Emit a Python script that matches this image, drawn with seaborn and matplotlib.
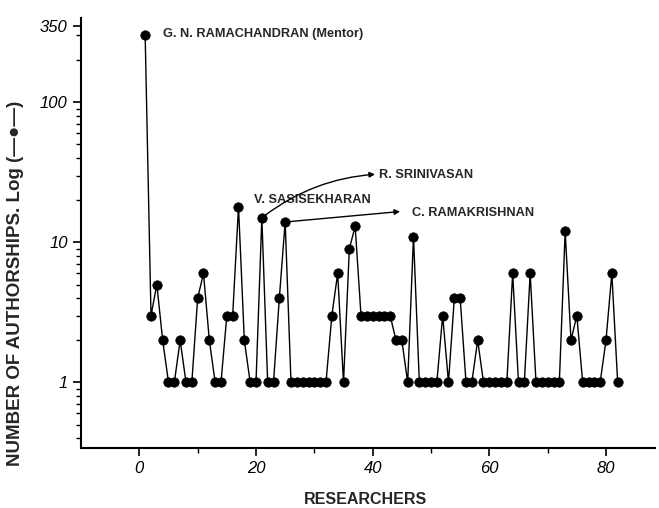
import matplotlib
matplotlib.use("Agg")
import matplotlib.pyplot as plt
import seaborn as sns
import pandas as pd
import numpy as np

researchers = list(range(1, 83))
authorships = [
    300, 3, 5, 2, 1, 1, 2, 1, 1, 4,
    6, 2, 1, 1, 3, 3, 18, 2, 1, 1,
    15, 1, 1, 4, 14, 1, 1, 1, 1, 1,
    1, 1, 3, 6, 1, 9, 13, 3, 3, 3,
    3, 3, 3, 2, 2, 1, 11, 1, 1, 1,
    1, 3, 1, 4, 4, 1, 1, 2, 1, 1,
    1, 1, 1, 6, 1, 1, 6, 1, 1, 1,
    1, 1, 12, 2, 3, 1, 1, 1, 1, 2,
    6, 1,
]
x_ticks = [0, 20, 40, 60, 80]
y_ticks = [1, 10, 100, 350]
y_tick_labels = ["1", "10", "100", "350"]

df = pd.DataFrame({"researcher": researchers, "authorships": authorships})

sns.set_style("ticks")
plt.rcParams['font.family'] = ['Liberation Sans', 'DejaVu Sans']

W, H = 659, 508
fig = plt.figure(figsize=(W / 100, H / 100), dpi=100)
left, right, top, bottom = 81, 655, 18, 448
ax = fig.add_axes([left / W, 1 - bottom / H, (right - left) / W, (bottom - top) / H])

sns.lineplot(data=df, x="researcher", y="authorships", ax=ax, color="black",
             linewidth=1.0, marker="o", markersize=6.8, markeredgecolor="black",
             markerfacecolor="black", markeredgewidth=0.5)

ax.set_yscale("log")
ax.set_ylim(0.34, 400)
ax.set_xlim(-10, 88.4)

ax.set_xticks(x_ticks)
ax.set_xticklabels([str(t) for t in x_ticks], fontstyle="italic", fontsize=12)
ax.set_xticks([10, 30, 50, 70], minor=True)
ax.set_yticks(y_ticks)
ax.set_yticklabels(y_tick_labels, fontstyle="italic", fontsize=12)
minor_y = [0.4, 0.5, 0.6, 0.7, 0.8, 0.9, 2, 3, 4, 5, 6, 7, 8, 9,
           20, 30, 40, 50, 60, 70, 80, 90, 200, 300]
ax.set_yticks(minor_y, minor=True)
ax.yaxis.set_minor_formatter(matplotlib.ticker.NullFormatter())

ax.tick_params(axis="both", which="major", direction="out", length=5.5, width=1.2, colors="black", pad=4)
ax.tick_params(axis="both", which="minor", direction="out", length=3.5, width=1.0, colors="black")
for s in ["top", "right"]:
    ax.spines[s].set_visible(False)
for s in ["left", "bottom"]:
    ax.spines[s].set_linewidth(1.5)
    ax.spines[s].set_color("black")

ax.set_xlabel("")
ax.set_ylabel("")

fig.text(365 / W, 1 - 499 / H, "RESEARCHERS", ha="center", va="center",
         fontsize=11.5, fontweight="bold")
fig.text(16 / W, 1 - 283 / H, "NUMBER OF AUTHORSHIPS. Log (\u2014\u25cf\u2014)", ha="center", va="center",
         rotation=90, fontsize=13.5, fontweight="bold", family=['Liberation Sans', 'DejaVu Sans'])

lab_kw = dict(fontsize=9.2, fontweight="bold", va="center", ha="left")
ax.text(4.1, 306, "G. N. RAMACHANDRAN (Mentor)", **lab_kw)
ax.text(19.7, 20.0, "V. SASISEKHARAN", **lab_kw)
ax.text(41.1, 30.1, "R. SRINIVASAN", **lab_kw)
ax.text(46.8, 16.2, "C. RAMAKRISHNAN", **lab_kw)

ax.annotate("", xy=(40.4, 30.6), xytext=(21.2, 15.2),
            arrowprops=dict(arrowstyle="-|>", color="black", lw=1.0,
                            mutation_scale=8, shrinkA=2, shrinkB=0,
                            connectionstyle="arc3,rad=-0.15"))
ax.annotate("", xy=(44.7, 16.6), xytext=(25.2, 14.0),
            arrowprops=dict(arrowstyle="-|>", color="black", lw=1.0,
                            mutation_scale=8, shrinkA=2, shrinkB=0,
                            connectionstyle="arc3,rad=0.0"))

fig.savefig("out.png", dpi=100)
